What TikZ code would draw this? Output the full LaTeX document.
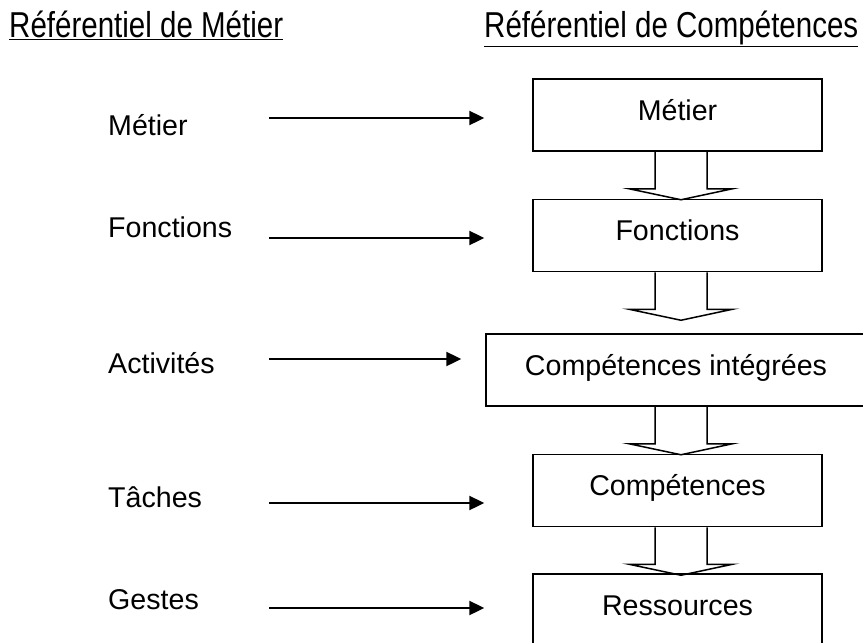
\documentclass[tikz,border=0pt]{standalone}
\usepackage{fontspec}
\setmainfont{Liberation Sans}
\newfontfamily\narrowfont{Liberation Sans}[FakeStretch=0.82]
\usetikzlibrary{arrows.meta,calc}
\begin{document}
\begin{tikzpicture}[x=1pt,y=-1pt,
  lbl/.style={font=\fontsize{28.6}{34}\selectfont, anchor=base west, inner sep=0pt},
  box/.style={draw, line width=1.5pt, minimum width=289pt, minimum height=72pt, inner sep=0pt,
    font=\fontsize{28.6}{34}\selectfont, text height=20.3pt, text depth=10pt},
  hdr/.style={font=\narrowfont\fontsize{36}{40}\selectfont, inner sep=0pt, anchor=base west},
  link/.style={line width=2.4pt, -{Triangle[length=15pt,width=14pt]}},
  blk/.style={line width=1.5pt, line join=miter}]
\useasboundingbox (0,0) rectangle (863,643);
\begin{scope}
\clip (0,0) rectangle (863,643);
% headers
\node[hdr] (h1) at (9,37) {\underline{Référentiel de Métier}};
\node[hdr] (h2) at (484,37) {\underline{Référentiel de Compétences}};
% left labels
\node[lbl] (l1) at (108,135) {Métier};
\node[lbl] (l2) at (108,237) {Fonctions};
\node[lbl] (l3) at (108,373) {Activités};
\node[lbl] (l4) at (108,507) {Tâches};
\node[lbl] (l5) at (108,609) {Gestes};
% boxes
\node[box] (b1) at (677.5,115) {Métier};
\node[box] (b2) at (677.5,235.5) {Fonctions};
\node[box, minimum width=380pt] (b3) at (676,370) {Compétences intégrées};
\node[box] (b4) at (677.5,490.5) {Compétences};
\node[box] (b5) at (677.5,610) {Ressources};
% horizontal arrows
\coordinate (s1) at (269,118);
\coordinate (s2) at (269,238);
\coordinate (s3) at (269,359);
\coordinate (s4) at (269,503);
\coordinate (s5) at (269,608);
\draw[link, shorten >=48pt] (s1) -- (s1 -| b1.west);
\draw[link, shorten >=48pt] (s2) -- (s2 -| b2.west);
\draw[link, shorten >=24pt] (s3) -- (s3 -| b3.west);
\draw[link, shorten >=48pt] (s4) -- (s4 -| b4.west);
\draw[link, shorten >=48pt] (s5) -- (s5 -| b5.west);
% block arrows
\foreach \a/\b in {b1/b2, b2/b3, b3/b4, b4/b5}{
  \draw[blk] ($(b1.south |- \a.south)+(-22.5,0)$) -- ++(0,37) -- ++(-26,0) -- ++(52,11)
    -- ++(51.5,-11) -- ++(-25.5,0) -- ++(0,-37);
}
\end{scope}
\end{tikzpicture}
\end{document}
